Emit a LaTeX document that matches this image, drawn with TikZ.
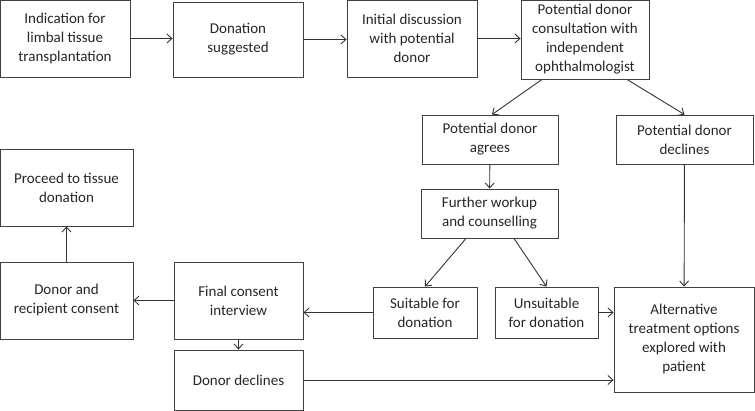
\documentclass[tikz,border=0pt]{standalone}
\usepackage{fontspec}
\setmainfont{Carlito}
\usepackage{tikz}
\usetikzlibrary{arrows, arrows.meta}

\tikzset{
  stepbox/.style={draw=black!75, line width=0.9pt, align=center, inner sep=0pt,
    font=\fontsize{15}{19}\selectfont, text=black!85},
  arr/.style={-{Straight Barb[length=5pt,width=9pt]}, line width=0.9pt, draw=black!80}
}

\begin{document}
\begin{tikzpicture}[x=1pt, y=-1pt]
			\useasboundingbox (0,0) rectangle (755,411);
			% top row
			\node[stepbox, minimum width=130, minimum height=77] (indication) at (65,38.5){Indication for\\limbal tissue\\transplantation};
			\node[stepbox, minimum width=130, minimum height=75] (suggested) at (238,39.5){Donation\\suggested};
			\node[stepbox, minimum width=130, minimum height=77] (discussion) at (412,38.5){Initial discussion\\with potential\\donor};
			\node[stepbox, minimum width=128, minimum height=79] (consult) at (585,39.5){Potential donor\\consultation with\\independent\\ophthalmologist};
			% middle
			\node[stepbox, minimum width=136, minimum height=49] (agrees) at (490,139.5){Potential donor\\agrees};
			\node[stepbox, minimum width=137, minimum height=49] (pdeclines) at (684.5,139.5){Potential donor\\declines};
			\node[stepbox, minimum width=137, minimum height=49] (workup) at (489.5,213.5){Further workup\\and counselling};
			\node[stepbox, minimum width=104, minimum height=51] (suitable) at (425,312.5){Suitable for\\donation};
			\node[stepbox, minimum width=103, minimum height=51] (unsuitable) at (546.5,312.5){Unsuitable\\for donation};
			\node[stepbox, minimum width=140, minimum height=105] (alternative) at (684,339.5){Alternative\\treatment options\\explored with\\patient};
			% left
			\node[stepbox, minimum width=133, minimum height=77] (proceed) at (66.5,187.5){Proceed to tissue\\donation};
			\node[stepbox, minimum width=133, minimum height=77] (bothconsent) at (66.5,300.5){Donor and\\recipient consent};
			\node[stepbox, minimum width=129, minimum height=77] (final) at (238.5,300.5){Final consent\\interview};
			\node[stepbox, minimum width=129, minimum height=60] (ddeclines) at (238.5,380){Donor declines};

			\draw[arr] (indication.east) -- (indication.east -| suggested.west);
			\draw[arr] (suggested.east) -- (suggested.east -| discussion.west);
			\draw[arr] (discussion.east) -- (discussion.east -| consult.west);
			\draw[arr] ([xshift=-43]consult.south) -- ([xshift=2]agrees.north);
			\draw[arr] ([xshift=42]consult.south) -- (pdeclines.north);
			\draw[arr] (agrees) -- (workup);
			\draw[arr] (pdeclines) -- (alternative);
			\draw[arr] ([xshift=-23.5]workup.south) -- (suitable.north);
			\draw[arr] ([xshift=24.5]workup.south) -- (unsuitable.north);
			\draw[arr] (unsuitable.east) -- (unsuitable.east -| alternative.west);
			\draw[arr] (suitable.west) -- (suitable.west -| final.east);
			\draw[arr] (final) -- (bothconsent);
			\draw[arr] (bothconsent) -- (proceed);
			\draw[arr] (final) -- (ddeclines);
			\draw[arr] (ddeclines.east) -- (ddeclines.east -| alternative.west);

		\end{tikzpicture}
\end{document}
